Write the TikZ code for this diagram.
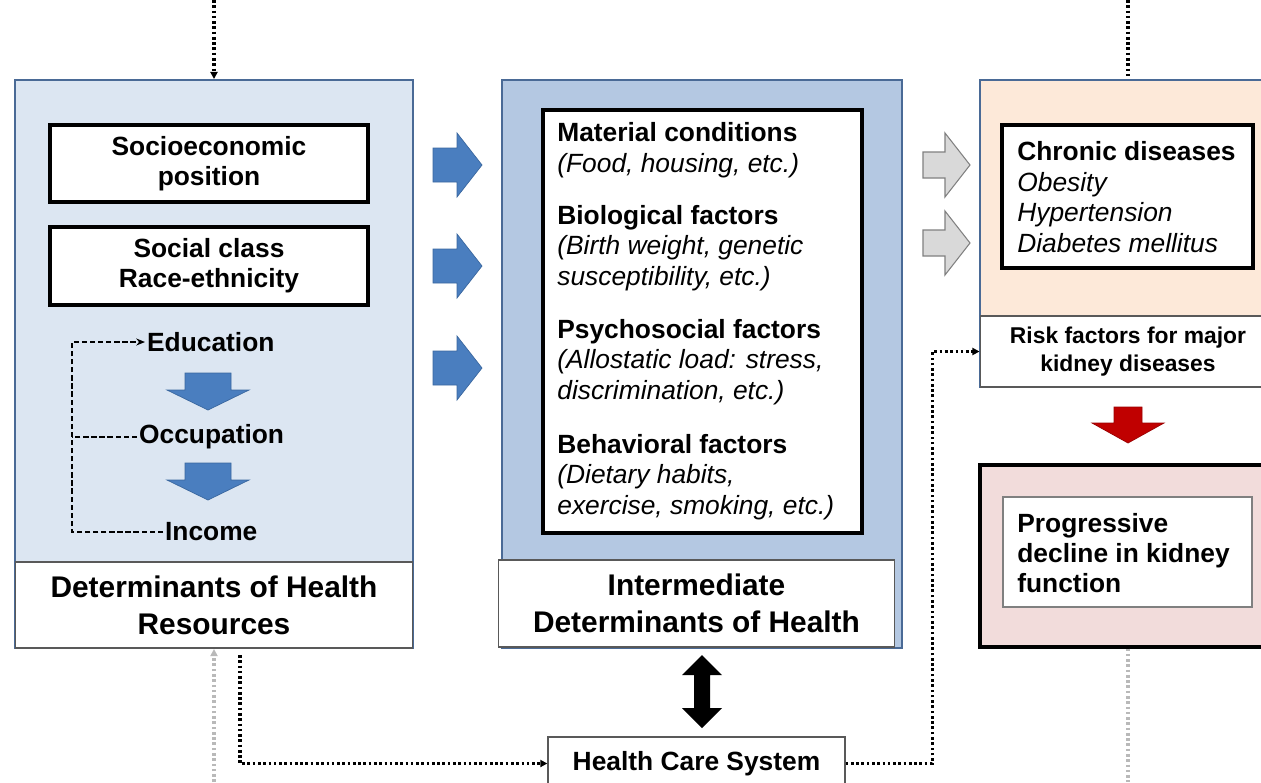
\documentclass[tikz,border=0pt]{standalone}
\usepackage{fontspec}
\setmainfont{Liberation Sans}
\usetikzlibrary{arrows.meta,calc}
\definecolor{leftfill}{HTML}{DCE6F2}
\definecolor{midfill}{HTML}{B4C8E2}
\definecolor{boxline}{HTML}{4A6A96}
\definecolor{arrowblue}{HTML}{4A7EBF}
\definecolor{arrowedge}{HTML}{3A679F}
\definecolor{peach}{HTML}{FDE9D9}
\definecolor{pinkfill}{HTML}{F2DCDB}
\definecolor{darkred}{HTML}{C00000}
\definecolor{lightgrey}{HTML}{D9D9D9}

\begin{document}
\begin{tikzpicture}[
    x=0.02cm, y=-0.02cm,
    font=\fontsize{15}{17.5}\selectfont,
    outer_box/.style={rectangle, draw=boxline, line width=1.2pt, inner sep=0pt},
    label_box/.style={rectangle, draw=gray!70!black, fill=white, line width=0.6pt, inner sep=0pt, align=center, font=\fontsize{17}{21}\selectfont\bfseries},
    item_box/.style={rectangle, draw=black, fill=white, line width=1.8pt, inner sep=0pt, align=center, font=\fontsize{15}{17}\selectfont\bfseries},
    txt/.style={anchor=west, align=left, inner sep=0pt},
    step_txt/.style={anchor=west, inner sep=1pt, font=\fontsize{15}{17.5}\selectfont\bfseries},
    dash_line/.style={line width=0.8pt, dash pattern=on 3pt off 1.6pt},
    dot_line/.style={line width=1.8pt, dash pattern=on 1.5pt off 1.5pt},
    grey_dot/.style={dot_line, color=gray!55},
    tip/.style={-{Triangle[length=4pt,width=4pt]}},
    blue_arrow/.style={fill=arrowblue, draw=arrowedge, line width=0.4pt},
    grey_arrow/.style={fill=lightgrey, draw=gray, line width=0.6pt},
    red_arrow/.style={fill=darkred, draw=darkred!80!black, line width=0.4pt}
]
\useasboundingbox (0,0) rectangle (1261,782);
\clip (0,0) rectangle (1261,782);

% left column: resources
\node[outer_box, fill=leftfill, minimum width=7.96cm, minimum height=11.36cm] (lbox) at (214,364) {};
\node[label_box, minimum width=7.96cm, minimum height=1.72cm] (llab) at (214,605) {Determinants of Health\\Resources};
\node[item_box, minimum width=6.36cm, minimum height=1.54cm] (sep) at (209,163.5) {Socioeconomic\\position};
\node[item_box, minimum width=6.36cm, minimum height=1.56cm] (scl) at (209,266) {Social class\\Race-ethnicity};
\node[step_txt] (edu) at (145,342) {Education};
\node[step_txt] (occ) at (137,437) {Occupation};
\node[step_txt] (inc) at (163,532) {Income};
\coordinate (dl) at (72,532);
\draw[dash_line, -{Stealth[length=5pt,width=4pt]}] (inc.west) -- (inc.west -| dl) |- (edu.west);
\draw[dash_line] (occ.west) -- (occ.west -| dl);
\foreach \yy in {373,463}
  \filldraw[blue_arrow, shift={(208,\yy)}] (-23,0) -- (23,0) -- (23,17) -- (41,17) -- (0,37) -- (-41,17) -- (-23,17) -- cycle;

% arrows into the middle column
\foreach \yy in {165,266,368}
  \filldraw[blue_arrow, shift={(433,\yy)}] (0,-17) -- (24,-17) -- (24,-32) -- (49,0) -- (24,32) -- (24,17) -- (0,17) -- cycle;

% middle column: intermediate determinants
\node[outer_box, fill=midfill, minimum width=8cm, minimum height=11.36cm] (mbox) at (702,364) {};
\node[item_box, minimum width=6.38cm, minimum height=8.46cm] (mfac) at (702.5,321.5) {};
\node[txt] (mat) at (557,150) {\textbf{Material conditions}\\\textit{(Food, housing, etc.)}};
\node[txt] (bio) at (557,248) {\textbf{Biological factors}\\\textit{(Birth weight, genetic}\\\textit{susceptibility, etc.)}};
\node[txt] (psy) at (557,362) {\textbf{Psychosocial factors}\\\textit{(Allostatic load: stress,}\\\textit{discrimination, etc.)}};
\node[txt] (beh) at (557,477) {\textbf{Behavioral factors}\\\textit{(Dietary habits,}\\\textit{exercise, smoking, etc.)}};
\node[label_box, minimum width=7.94cm, minimum height=1.74cm] (mlab) at (696.5,603.5) {Intermediate\\Determinants of Health};

% arrows into the right column
\foreach \yy in {165,243}
  \filldraw[grey_arrow, shift={(923,\yy)}] (0,-13) -- (22,-13) -- (22,-32) -- (47,0) -- (22,32) -- (22,13) -- (0,13) -- cycle;

% right column: risk factors and kidney function
\node[outer_box, fill=peach, minimum width=5.92cm, minimum height=6.14cm] (rbox) at (1128,233.5) {};
\node[item_box, minimum width=5.02cm, minimum height=2.86cm] (chr) at (1127.5,196.5) {};
\node[txt] (chrtxt) at (1017,197) {\textbf{Chronic diseases}\\\textit{Obesity}\\\textit{Hypertension}\\\textit{Diabetes mellitus}};
\node[label_box, font=\fontsize{13}{16.4}\selectfont\bfseries, minimum width=5.92cm, minimum height=1.42cm] (rlab) at (1128,351.5) {Risk factors for major\\kidney diseases};
\filldraw[red_arrow, shift={(1128,407)}] (-14,0) -- (14,0) -- (14,16) -- (36,16) -- (0,36) -- (-36,16) -- (-14,16) -- cycle;
\node[rectangle, draw=black, line width=1.8pt, fill=pinkfill, minimum width=5.92cm, minimum height=3.64cm] (kbox) at (1128,556) {};
\node[rectangle, draw=gray, line width=0.8pt, fill=white, minimum width=4.98cm, minimum height=2.2cm] (kin) at (1127.5,552) {};
\node[txt, font=\fontsize{15}{17}\selectfont\bfseries] (kintxt) at (1017,553) {Progressive\\decline in kidney\\function};

% health care system
\node[rectangle, draw=gray!70!black, fill=white, line width=0.8pt, minimum width=5.94cm, minimum height=1.06cm, font=\fontsize{15}{17.5}\selectfont\bfseries] (hcs) at (696.5,763.5) {Health Care System};
\fill[black, shift={(702,655)}] (0,0) -- (20,20) -- (8,20) -- (8,53) -- (20,53) -- (0,73) -- (-20,53) -- (-8,53) -- (-8,20) -- (-20,20) -- cycle;

% dotted links
\coordinate (topL) at (214,0);
\coordinate (topR) at (1128,0);
\coordinate (botL) at (214,782);
\coordinate (botR) at (1128,782);
\coordinate (hcsL) at (240,655);
\draw[dot_line, tip] (topL) -- (lbox.north);
\draw[dot_line] (topR) -- (rbox.north);
\draw[grey_dot, tip] (botL) -- (lbox.south);
\draw[grey_dot] (kbox.south) -- (botR);
\draw[dot_line, tip] (hcsL) |- (hcs.west);
\draw[dot_line, tip] (hcs.east) -| ($(rlab.west)+(-47,0)$) -- (rlab.west);
\end{tikzpicture}
\end{document}
